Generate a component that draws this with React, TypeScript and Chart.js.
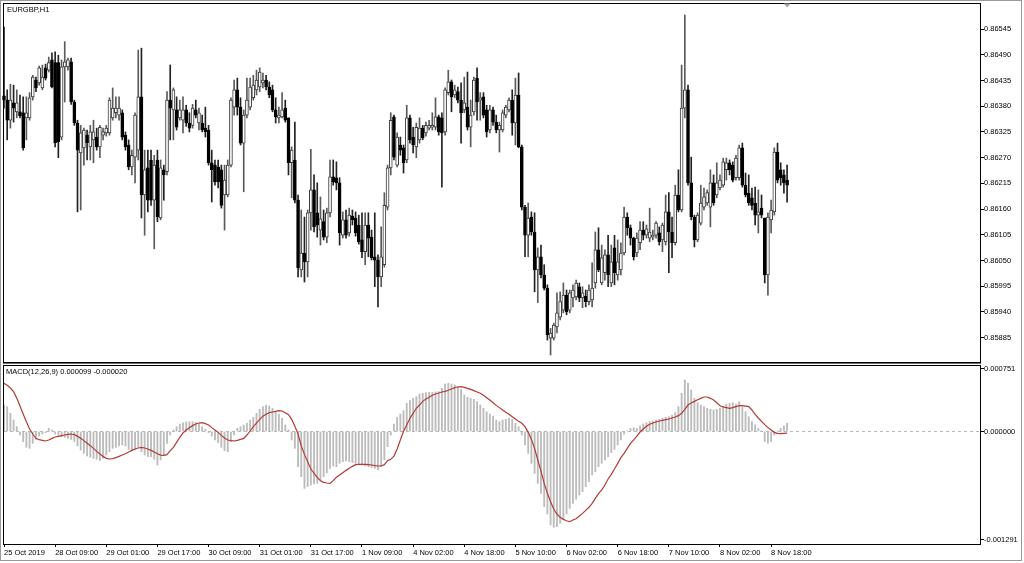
import React, { useEffect, useRef } from 'react';
import { Chart, registerables } from 'chart.js';

Chart.register(...registerables);

const SYMBOL_CAPTION = 'EURGBP,H1';
const MACD_CAPTION = 'MACD(12,26,9) 0.000099 -0.000020';

const TIME_LABELS = [
  '25 Oct 2019', '28 Oct 09:00', '29 Oct 01:00', '29 Oct 17:00', '30 Oct 09:00', '31 Oct 01:00',
  '31 Oct 17:00', '1 Nov 09:00', '4 Nov 02:00', '4 Nov 18:00', '5 Nov 10:00', '6 Nov 02:00',
  '6 Nov 18:00', '7 Nov 10:00', '8 Nov 02:00', '8 Nov 18:00',
];
const BARS_PER_LABEL = 16;
const VIEW_BARS = 305.35; // visible bar slots including the right-hand chart shift

const PRICE_TICKS = [0.86545, 0.8649, 0.86435, 0.8638, 0.86325, 0.8627, 0.86215, 0.8616, 0.86105, 0.8605, 0.85995, 0.8594, 0.85885];
const PRICE_MIN = 0.85833;
const PRICE_MAX = 0.865985;
const MACD_TICKS = [0.000751, 0, -0.001291];
const MACD_MIN = -0.001343;
const MACD_MAX = 0.000782;
const ZERO_LEVEL = 0;

const OPEN = [
  0.86402,0.86393,0.86350,0.86387,0.86368,0.86368,0.86366,0.86355,0.86355,0.86400,
  0.86436,0.86430,0.86419,0.86462,0.86457,0.86479,0.86473,0.86473,0.86314,0.86464,
  0.86464,0.86475,0.86389,0.86344,0.86280,0.86291,0.86318,0.86293,0.86308,0.86314,
  0.86293,0.86318,0.86323,0.86323,0.86355,0.86366,0.86361,0.86366,0.86318,0.86297,
  0.86250,0.86271,0.86286,0.86400,0.86190,0.86248,0.86265,0.86179,0.86265,0.86141,
  0.86244,0.86240,0.86393,0.86372,0.86372,0.86355,0.86350,0.86372,0.86344,0.86339,
  0.86372,0.86344,0.86344,0.86333,0.86329,0.86259,0.86254,0.86250,0.86244,0.86190,
  0.86190,0.86254,0.86378,0.86415,0.86378,0.86301,0.86361,0.86378,0.86398,0.86415,
  0.86421,0.86430,0.86436,0.86421,0.86415,0.86372,0.86355,0.86357,0.86376,0.86355,
  0.86259,0.86265,0.86179,0.86030,0.86066,0.86047,0.86152,0.86201,0.86152,0.86115,
  0.86133,0.86100,0.86152,0.86229,0.86227,0.86216,0.86104,0.86137,0.86109,0.86145,
  0.86141,0.86126,0.86094,0.86069,0.86126,0.86100,0.86058,0.86051,0.86015,0.86041,
  0.86164,0.86248,0.86357,0.86254,0.86297,0.86291,0.86265,0.86355,0.86314,0.86293,
  0.86308,0.86333,0.86323,0.86333,0.86335,0.86335,0.86357,0.86355,0.86325,0.86409,
  0.86432,0.86404,0.86411,0.86393,0.86372,0.86378,0.86335,0.86368,0.86440,0.86393,
  0.86400,0.86372,0.86329,0.86372,0.86346,0.86329,0.86329,0.86361,0.86372,0.86393,
  0.86344,0.86404,0.86293,0.86164,0.86104,0.86143,0.86111,0.86030,0.86058,0.86019,
  0.85991,0.85884,0.85884,0.85908,0.85929,0.85944,0.85976,0.85944,0.85970,0.85972,
  0.85994,0.85970,0.85974,0.85962,0.85966,0.86002,0.86073,0.86002,0.86024,0.86062,
  0.86002,0.86077,0.86019,0.86030,0.86066,0.86143,0.86120,0.86098,0.86066,0.86088,
  0.86115,0.86104,0.86098,0.86100,0.86104,0.86109,0.86094,0.86090,0.86154,0.86111,
  0.86088,0.86190,0.86158,0.86376,0.86415,0.86216,0.86143,0.86094,0.86130,0.86164,
  0.86173,0.86164,0.86216,0.86190,0.86205,0.86211,0.86244,0.86259,0.86254,0.86227,
  0.86227,0.86291,0.86211,0.86194,0.86184,0.86173,0.86147,0.86162,0.86141,0.86019,
  0.86137,0.86154,0.86282,0.86244,0.86233,0.86222,
];
const HIGH = [
  0.86549,0.86415,0.86427,0.86425,0.86415,0.86404,0.86400,0.86400,0.86409,0.86446,
  0.86442,0.86466,0.86468,0.86470,0.86485,0.86494,0.86496,0.86489,0.86479,0.86518,
  0.86483,0.86483,0.86393,0.86350,0.86339,0.86333,0.86329,0.86339,0.86350,0.86333,
  0.86339,0.86333,0.86339,0.86398,0.86419,0.86400,0.86400,0.86372,0.86325,0.86308,
  0.86286,0.86366,0.86500,0.86504,0.86286,0.86286,0.86286,0.86275,0.86286,0.86265,
  0.86254,0.86411,0.86468,0.86419,0.86400,0.86393,0.86400,0.86382,0.86366,0.86384,
  0.86393,0.86376,0.86361,0.86378,0.86339,0.86286,0.86265,0.86265,0.86254,0.86254,
  0.86265,0.86398,0.86436,0.86440,0.86398,0.86372,0.86440,0.86440,0.86446,0.86457,
  0.86462,0.86451,0.86446,0.86432,0.86425,0.86398,0.86378,0.86409,0.86393,0.86355,
  0.86293,0.86346,0.86190,0.86158,0.86143,0.86158,0.86288,0.86233,0.86216,0.86186,
  0.86158,0.86162,0.86265,0.86265,0.86261,0.86227,0.86154,0.86158,0.86162,0.86158,
  0.86154,0.86147,0.86152,0.86152,0.86152,0.86115,0.86152,0.86062,0.86122,0.86195,
  0.86254,0.86366,0.86361,0.86323,0.86314,0.86297,0.86382,0.86361,0.86335,0.86344,
  0.86355,0.86339,0.86346,0.86350,0.86366,0.86398,0.86361,0.86366,0.86419,0.86457,
  0.86436,0.86425,0.86421,0.86430,0.86442,0.86453,0.86393,0.86442,0.86462,0.86409,
  0.86409,0.86382,0.86382,0.86378,0.86361,0.86346,0.86372,0.86382,0.86398,0.86415,
  0.86440,0.86451,0.86297,0.86168,0.86173,0.86154,0.86152,0.86077,0.86083,0.86041,
  0.85998,0.85905,0.85916,0.85981,0.85983,0.86002,0.85987,0.85987,0.85998,0.86008,
  0.86002,0.85994,0.85987,0.85998,0.86045,0.86111,0.86120,0.86083,0.86073,0.86104,
  0.86083,0.86104,0.86094,0.86088,0.86164,0.86152,0.86126,0.86100,0.86109,0.86133,
  0.86133,0.86126,0.86162,0.86115,0.86133,0.86122,0.86130,0.86190,0.86195,0.86143,
  0.86211,0.86244,0.86468,0.86575,0.86425,0.86271,0.86147,0.86152,0.86211,0.86205,
  0.86201,0.86244,0.86233,0.86259,0.86233,0.86269,0.86269,0.86265,0.86261,0.86275,
  0.86297,0.86301,0.86237,0.86233,0.86205,0.86207,0.86201,0.86190,0.86141,0.86152,
  0.86179,0.86291,0.86301,0.86259,0.86244,0.86254,
];
const LOW = [
  0.86376,0.86308,0.86333,0.86346,0.86355,0.86355,0.86286,0.86308,0.86350,0.86393,
  0.86411,0.86425,0.86415,0.86436,0.86453,0.86419,0.86293,0.86270,0.86308,0.86389,
  0.86457,0.86384,0.86339,0.86154,0.86158,0.86254,0.86265,0.86265,0.86259,0.86286,
  0.86270,0.86308,0.86316,0.86318,0.86350,0.86355,0.86350,0.86308,0.86286,0.86244,
  0.86233,0.86216,0.86265,0.86141,0.86104,0.86154,0.86168,0.86075,0.86133,0.86137,
  0.86179,0.86233,0.86308,0.86308,0.86329,0.86350,0.86323,0.86337,0.86325,0.86333,
  0.86355,0.86329,0.86325,0.86314,0.86254,0.86175,0.86211,0.86205,0.86162,0.86115,
  0.86186,0.86250,0.86361,0.86361,0.86297,0.86197,0.86355,0.86372,0.86393,0.86404,
  0.86411,0.86419,0.86415,0.86398,0.86368,0.86344,0.86344,0.86355,0.86346,0.86233,
  0.86184,0.86173,0.86015,0.86015,0.86004,0.86015,0.86115,0.86111,0.86100,0.86083,
  0.86094,0.86088,0.86143,0.86211,0.86201,0.86083,0.86098,0.86098,0.86102,0.86126,
  0.86102,0.86085,0.86056,0.86041,0.86058,0.86051,0.85994,0.85951,0.85994,0.86036,
  0.86158,0.86233,0.86265,0.86250,0.86275,0.86237,0.86259,0.86301,0.86280,0.86270,
  0.86301,0.86308,0.86316,0.86329,0.86329,0.86329,0.86318,0.86207,0.86318,0.86404,
  0.86368,0.86398,0.86387,0.86301,0.86366,0.86329,0.86293,0.86361,0.86350,0.86350,
  0.86355,0.86314,0.86323,0.86339,0.86323,0.86282,0.86325,0.86355,0.86368,0.86318,
  0.86297,0.86291,0.86158,0.86058,0.86058,0.86104,0.85983,0.85960,0.86013,0.85987,
  0.85880,0.85848,0.85880,0.85895,0.85923,0.85938,0.85934,0.85938,0.85951,0.85966,
  0.85962,0.85949,0.85951,0.85955,0.85951,0.85991,0.86026,0.85998,0.86008,0.85994,
  0.85994,0.85998,0.86008,0.86019,0.86062,0.86104,0.86083,0.86051,0.86058,0.86073,
  0.86094,0.86098,0.86090,0.86094,0.86098,0.86083,0.86069,0.86083,0.86024,0.86056,
  0.86083,0.86154,0.86154,0.86355,0.86211,0.86137,0.86079,0.86090,0.86126,0.86158,
  0.86168,0.86122,0.86168,0.86184,0.86201,0.86207,0.86222,0.86233,0.86218,0.86222,
  0.86222,0.86207,0.86186,0.86168,0.86158,0.86126,0.86109,0.86141,0.86002,0.85976,
  0.86109,0.86147,0.86216,0.86211,0.86194,0.86175,
];
const CLOSE = [
  0.86393,0.86350,0.86393,0.86376,0.86387,0.86359,0.86291,0.86366,0.86398,0.86442,
  0.86419,0.86462,0.86442,0.86440,0.86473,0.86421,0.86302,0.86304,0.86464,0.86475,
  0.86479,0.86389,0.86344,0.86286,0.86323,0.86329,0.86302,0.86325,0.86325,0.86293,
  0.86335,0.86325,0.86333,0.86393,0.86376,0.86376,0.86376,0.86314,0.86293,0.86250,
  0.86275,0.86361,0.86400,0.86190,0.86244,0.86179,0.86179,0.86254,0.86143,0.86248,
  0.86233,0.86393,0.86376,0.86415,0.86335,0.86372,0.86372,0.86344,0.86333,0.86376,
  0.86361,0.86366,0.86329,0.86325,0.86259,0.86244,0.86218,0.86218,0.86168,0.86222,
  0.86254,0.86393,0.86415,0.86378,0.86301,0.86361,0.86393,0.86421,0.86425,0.86436,
  0.86453,0.86436,0.86421,0.86404,0.86372,0.86357,0.86361,0.86372,0.86350,0.86259,
  0.86286,0.86179,0.86034,0.86066,0.86047,0.86152,0.86201,0.86122,0.86126,0.86139,
  0.86100,0.86152,0.86229,0.86218,0.86216,0.86109,0.86137,0.86104,0.86147,0.86137,
  0.86109,0.86090,0.86069,0.86126,0.86098,0.86056,0.86051,0.86015,0.86058,0.86168,
  0.86248,0.86350,0.86271,0.86314,0.86286,0.86259,0.86355,0.86308,0.86297,0.86335,
  0.86333,0.86312,0.86339,0.86339,0.86339,0.86357,0.86325,0.86323,0.86415,0.86432,
  0.86400,0.86415,0.86393,0.86366,0.86387,0.86335,0.86361,0.86436,0.86389,0.86398,
  0.86361,0.86325,0.86372,0.86346,0.86329,0.86339,0.86366,0.86378,0.86393,0.86344,
  0.86404,0.86293,0.86164,0.86104,0.86141,0.86111,0.86030,0.86058,0.86019,0.85991,
  0.85891,0.85895,0.85912,0.85938,0.85962,0.85976,0.85940,0.85981,0.85987,0.86002,
  0.85970,0.85981,0.85962,0.85987,0.85991,0.86073,0.86030,0.86056,0.86062,0.86019,
  0.86047,0.86024,0.86047,0.86066,0.86143,0.86120,0.86098,0.86058,0.86098,0.86115,
  0.86104,0.86118,0.86111,0.86104,0.86130,0.86090,0.86126,0.86154,0.86111,0.86088,
  0.86190,0.86158,0.86376,0.86415,0.86216,0.86143,0.86094,0.86147,0.86173,0.86186,
  0.86195,0.86216,0.86173,0.86216,0.86222,0.86261,0.86259,0.86244,0.86222,0.86269,
  0.86291,0.86211,0.86190,0.86173,0.86168,0.86147,0.86154,0.86147,0.86019,0.86143,
  0.86158,0.86282,0.86222,0.86227,0.86216,0.86211,
];

const MACD_HIST = [
  0.000316,0.000297,0.000217,0.000137,0.000058,-0.000042,-0.000121,-0.000189,-0.000201,-0.000141,
  -0.000094,-0.000054,-0.000030,-0.000014,0.000038,0.000018,-0.000030,-0.000042,-0.000062,-0.000070,
  -0.000082,-0.000094,-0.000121,-0.000173,-0.000221,-0.000261,-0.000293,-0.000308,-0.000320,-0.000332,
  -0.000348,-0.000320,-0.000281,-0.000241,-0.000201,-0.000189,-0.000173,-0.000161,-0.000173,-0.000213,
  -0.000229,-0.000221,-0.000189,-0.000241,-0.000281,-0.000300,-0.000300,-0.000332,-0.000400,-0.000340,
  -0.000281,-0.000141,-0.000042,0.000018,0.000058,0.000090,0.000105,0.000113,0.000117,0.000117,
  0.000109,0.000090,0.000058,0.000026,-0.000014,-0.000054,-0.000101,-0.000133,-0.000189,-0.000229,
  -0.000241,-0.000121,-0.000042,0.000038,0.000058,0.000078,0.000098,0.000137,0.000169,0.000217,
  0.000265,0.000297,0.000316,0.000304,0.000277,0.000237,0.000209,0.000157,0.000078,0.000018,
  -0.000101,-0.000201,-0.000420,-0.000539,-0.000679,-0.000659,-0.000639,-0.000627,-0.000619,-0.000587,
  -0.000539,-0.000492,-0.000440,-0.000412,-0.000420,-0.000380,-0.000360,-0.000352,-0.000360,-0.000372,
  -0.000380,-0.000388,-0.000400,-0.000412,-0.000420,-0.000428,-0.000440,-0.000460,-0.000420,-0.000340,
  -0.000181,-0.000042,0.000090,0.000169,0.000209,0.000249,0.000336,0.000368,0.000396,0.000416,
  0.000448,0.000456,0.000464,0.000468,0.000468,0.000472,0.000476,0.000515,0.000567,0.000575,
  0.000567,0.000556,0.000536,0.000503,0.000436,0.000408,0.000396,0.000384,0.000356,0.000316,
  0.000277,0.000237,0.000209,0.000185,0.000137,0.000117,0.000137,0.000145,0.000157,0.000145,
  0.000098,0.000058,-0.000042,-0.000161,-0.000261,-0.000380,-0.000500,-0.000619,-0.000738,-0.000897,
  -0.000985,-0.001116,-0.001144,-0.001136,-0.001097,-0.001049,-0.000985,-0.000918,-0.000858,-0.000810,
  -0.000758,-0.000718,-0.000659,-0.000599,-0.000519,-0.000480,-0.000420,-0.000380,-0.000340,-0.000300,
  -0.000253,-0.000213,-0.000161,-0.000101,-0.000030,0.000010,0.000038,0.000046,0.000038,0.000066,
  0.000090,0.000105,0.000117,0.000125,0.000137,0.000145,0.000157,0.000169,0.000177,0.000197,
  0.000225,0.000297,0.000456,0.000615,0.000575,0.000496,0.000396,0.000344,0.000316,0.000297,
  0.000277,0.000265,0.000257,0.000265,0.000277,0.000297,0.000328,0.000336,0.000344,0.000328,
  0.000356,0.000297,0.000237,0.000177,0.000117,0.000078,0.000038,0.000006,-0.000121,-0.000141,
  -0.000121,-0.000042,0.000010,0.000038,0.000066,0.000099,
];
const MACD_SIGNAL = [
  0.000575,0.000551,0.000519,0.000476,0.000396,0.000304,0.000209,0.000117,0.000030,-0.000030,
  -0.000082,-0.000098,-0.000105,-0.000113,-0.000101,-0.000082,-0.000066,-0.000058,-0.000050,-0.000042,
  -0.000034,-0.000030,-0.000038,-0.000058,-0.000082,-0.000109,-0.000141,-0.000169,-0.000201,-0.000237,
  -0.000269,-0.000297,-0.000320,-0.000328,-0.000324,-0.000312,-0.000297,-0.000281,-0.000265,-0.000245,
  -0.000225,-0.000209,-0.000197,-0.000189,-0.000197,-0.000209,-0.000225,-0.000245,-0.000265,-0.000281,
  -0.000285,-0.000277,-0.000229,-0.000189,-0.000129,-0.000070,-0.000018,0.000018,0.000046,0.000070,
  0.000090,0.000101,0.000105,0.000094,0.000078,0.000046,0.000018,-0.000010,-0.000046,-0.000078,
  -0.000101,-0.000109,-0.000113,-0.000105,-0.000094,-0.000082,-0.000042,0.000006,0.000058,0.000101,
  0.000145,0.000181,0.000205,0.000225,0.000233,0.000241,0.000249,0.000245,0.000225,0.000201,
  0.000145,0.000062,-0.000030,-0.000173,-0.000273,-0.000360,-0.000448,-0.000499,-0.000547,-0.000587,
  -0.000607,-0.000615,-0.000619,-0.000587,-0.000547,-0.000519,-0.000492,-0.000464,-0.000440,-0.000416,
  -0.000396,-0.000392,-0.000392,-0.000392,-0.000396,-0.000400,-0.000408,-0.000412,-0.000412,-0.000396,
  -0.000348,-0.000332,-0.000293,-0.000209,-0.000101,0.000002,0.000078,0.000157,0.000217,0.000277,
  0.000316,0.000360,0.000388,0.000408,0.000432,0.000448,0.000460,0.000472,0.000480,0.000492,
  0.000507,0.000523,0.000531,0.000535,0.000527,0.000515,0.000503,0.000488,0.000472,0.000456,
  0.000432,0.000404,0.000376,0.000344,0.000312,0.000285,0.000257,0.000229,0.000205,0.000177,
  0.000149,0.000121,0.000098,0.000058,-0.000010,-0.000094,-0.000201,-0.000340,-0.000472,-0.000619,
  -0.000738,-0.000838,-0.000929,-0.000985,-0.001025,-0.001049,-0.001065,-0.001077,-0.001057,-0.001041,
  -0.001009,-0.000977,-0.000941,-0.000905,-0.000858,-0.000798,-0.000742,-0.000698,-0.000639,-0.000567,
  -0.000511,-0.000448,-0.000380,-0.000312,-0.000261,-0.000201,-0.000141,-0.000101,-0.000054,-0.000006,
  0.000030,0.000062,0.000086,0.000101,0.000113,0.000125,0.000133,0.000141,0.000149,0.000161,
  0.000173,0.000189,0.000217,0.000265,0.000316,0.000340,0.000360,0.000380,0.000396,0.000412,
  0.000412,0.000396,0.000376,0.000344,0.000308,0.000293,0.000285,0.000277,0.000285,0.000297,
  0.000308,0.000308,0.000304,0.000297,0.000257,0.000205,0.000161,0.000121,0.000082,0.000046,
  0.000018,-0.000010,-0.000022,-0.000026,-0.000022,-0.000020,
];

const FONT_FAMILY = '"Liberation Sans", Arial, sans-serif';
const AXIS_FONT = { family: FONT_FAMILY, size: 7.5 };

const framePlugin = {
  id: 'frame',
  afterDraw(chart: any) {
    const { ctx, chartArea: a } = chart;
    ctx.save();
    ctx.strokeStyle = '#000';
    ctx.lineWidth = 1;
    ctx.strokeRect(a.left - 0.5, a.top - 0.5, a.right - a.left + 1, a.bottom - a.top + 1);
    ctx.restore();
  },
};

const shiftMarkerPlugin = {
  id: 'shiftMarker',
  afterDraw(chart: any) {
    const { ctx, chartArea: a } = chart;
    const x = chart.scales.x.getPixelForValue(OPEN.length - 1);
    ctx.save();
    ctx.fillStyle = '#a6a6a6';
    ctx.beginPath();
    ctx.moveTo(x - 3.5, a.top - 0.5);
    ctx.lineTo(x + 3.5, a.top - 0.5);
    ctx.lineTo(x, a.top + 3.5);
    ctx.closePath();
    ctx.fill();
    ctx.restore();
  },
};

const dividerPlugin = {
  id: 'divider',
  afterDraw(chart: any) {
    const { ctx, chartArea: a } = chart;
    ctx.save();
    ctx.strokeStyle = '#707070';
    ctx.lineWidth = 1;
    ctx.beginPath();
    ctx.moveTo(a.left - 1, 0.5);
    ctx.lineTo(a.right + 1, 0.5);
    ctx.stroke();
    ctx.restore();
  },
};

export default function App() {
  const mainRef = useRef<HTMLCanvasElement>(null);
  const macdRef = useRef<HTMLCanvasElement>(null);

  useEffect(() => {
    document.body.style.margin = '0';
    const idx = OPEN.map((_, i) => i);
    const isBull = (i: number) => CLOSE[i] >= OPEN[i];

    const main = new Chart(mainRef.current as HTMLCanvasElement, {
      type: 'bar',
      data: {
        datasets: [
          {
            data: idx.map((i) => ({ x: i, y: [OPEN[i], CLOSE[i]] })) as any,
            backgroundColor: (c: any) => (isBull(c.dataIndex) ? '#ffffff' : '#000000'),
            borderColor: (c: any) => (isBull(c.dataIndex) ? '#3a3a3a' : '#000000'),
            borderWidth: 1,
            borderSkipped: false,
            barThickness: 3,
            minBarLength: 1.5,
            grouped: false,
            clip: false as any,
            order: 0,
          },
          {
            data: idx.map((i) => ({ x: i, y: [LOW[i], HIGH[i]] })) as any,
            backgroundColor: (c: any) => (isBull(c.dataIndex) ? '#5a5a5a' : '#222222'),
            barThickness: 1,
            grouped: false,
            clip: false as any,
            order: 1,
          },
        ],
      },
      options: {
        animation: false,
        responsive: false,
        maintainAspectRatio: false,
        layout: { padding: { left: 4, top: 4, right: 0, bottom: 1 } },
        plugins: { legend: { display: false }, tooltip: { enabled: false } },
        scales: {
          x: { type: 'linear', min: 0, max: VIEW_BARS, offset: false, display: false, grid: { offset: false } },
          y: {
            position: 'right',
            min: PRICE_MIN,
            max: PRICE_MAX,
            afterBuildTicks: (s: any) => { s.ticks = PRICE_TICKS.map((v) => ({ value: v })); },
            afterFit: (s: any) => { s.width = 44; s.paddingTop = 0; s.paddingBottom = 0; },
            ticks: { color: '#000', font: AXIS_FONT, padding: 0, callback: (v: any) => Number(v).toFixed(5) },
            grid: { drawOnChartArea: false, drawTicks: true, tickLength: 4, color: '#000' },
            border: { display: false },
          },
        },
      } as any,
      plugins: [framePlugin, shiftMarkerPlugin],
    });

    const macd = new Chart(macdRef.current as HTMLCanvasElement, {
      type: 'bar',
      data: {
        datasets: [
          {
            type: 'line',
            data: idx.map((i) => ({ x: i, y: MACD_SIGNAL[i] })),
            borderColor: '#b33a36',
            borderWidth: 1.2,
            pointRadius: 0,
            tension: 0,
            order: 0,
          } as any,
          {
            type: 'line',
            data: [{ x: 0, y: ZERO_LEVEL }, { x: VIEW_BARS, y: ZERO_LEVEL }],
            borderColor: '#b8b8b8',
            borderWidth: 1,
            borderDash: [3, 3],
            pointRadius: 0,
            order: 1,
          } as any,
          {
            type: 'bar',
            data: idx.map((i) => ({ x: i, y: MACD_HIST[i] })),
            backgroundColor: '#bcbcbc',
            barThickness: 1.2,
            grouped: false,
            order: 2,
          } as any,
        ],
      },
      options: {
        animation: false,
        responsive: false,
        maintainAspectRatio: false,
        layout: { padding: { left: 4, top: 3, right: 0, bottom: 0 } },
        plugins: { legend: { display: false }, tooltip: { enabled: false } },
        scales: {
          x: {
            type: 'linear',
            min: 0,
            max: VIEW_BARS,
            offset: false,
            afterBuildTicks: (s: any) => { s.ticks = TIME_LABELS.map((_, k) => ({ value: k * BARS_PER_LABEL })); },
            afterFit: (s: any) => { s.height = 19; s.paddingLeft = 0; s.paddingRight = 0; },
            ticks: {
              autoSkip: false,
              maxRotation: 0,
              minRotation: 0,
              align: 'start',
              padding: 1,
              color: '#000',
              font: AXIS_FONT,
              callback: (v: any) => TIME_LABELS[Math.round(Number(v) / BARS_PER_LABEL)],
            },
            grid: { drawOnChartArea: false, drawTicks: true, tickLength: 3, color: '#000', offset: false },
            border: { display: false },
          },
          y: {
            position: 'right',
            min: MACD_MIN,
            max: MACD_MAX,
            afterBuildTicks: (s: any) => { s.ticks = MACD_TICKS.map((v) => ({ value: v })); },
            afterFit: (s: any) => { s.width = 44; s.paddingTop = 0; s.paddingBottom = 0; },
            ticks: { color: '#000', font: AXIS_FONT, padding: 0, callback: (v: any) => Number(v).toFixed(6) },
            grid: { drawOnChartArea: false, drawTicks: true, tickLength: 4, color: '#000' },
            border: { display: false },
          },
        },
      } as any,
      plugins: [framePlugin, dividerPlugin],
    });

    return () => {
      main.destroy();
      macd.destroy();
    };
  }, []);

  const captionStyle: React.CSSProperties = {
    position: 'absolute',
    fontFamily: FONT_FAMILY,
    fontSize: '7.5px',
    lineHeight: '9px',
    color: '#000',
    whiteSpace: 'nowrap',
  };

  return (
    <div style={{ position: 'relative', width: 1024, height: 563, background: '#fff', overflow: 'hidden' }}>
      <div style={{ position: 'absolute', left: 0, top: 0, width: 1020, height: 559, border: '1px solid #9a9a9a' }} />
      <canvas ref={mainRef} width={1024} height={363} style={{ position: 'absolute', left: 0, top: 0, width: 1024, height: 363 }} />
      <canvas ref={macdRef} width={1024} height={200} style={{ position: 'absolute', left: 0, top: 363, width: 1024, height: 200 }} />
      <div style={{ ...captionStyle, left: 7, top: 4.5 }}>{SYMBOL_CAPTION}</div>
      <div style={{ ...captionStyle, left: 6, top: 366.5 }}>{MACD_CAPTION}</div>
    </div>
  );
}
